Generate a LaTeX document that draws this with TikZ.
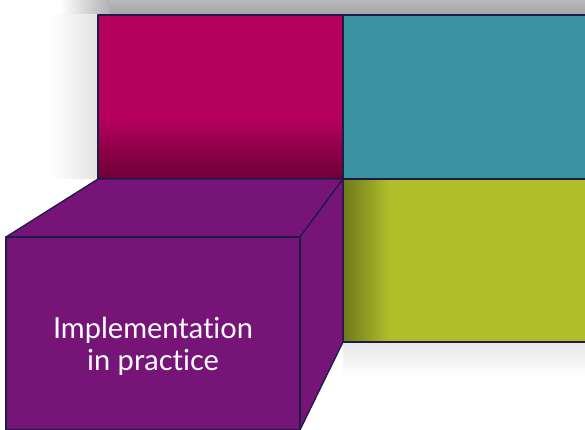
\documentclass[tikz,border=0pt]{standalone}
\usepackage{fontspec}
\setmainfont{Lato}[Ligatures=NoCommon]
\usetikzlibrary{positioning}

\definecolor{panelmagenta}{HTML}{B5005E}
\definecolor{panelmagentadark}{HTML}{6C0036}
\definecolor{panelteal}{HTML}{3892A0}
\definecolor{panellime}{HTML}{B0BE2A}
\definecolor{panellimedark}{HTML}{6E7A1C}
\definecolor{cubepurple}{HTML}{771478}
\definecolor{edgenavy}{HTML}{1F1A4A}

\begin{document}
\begin{tikzpicture}[x=1pt, y=-1pt,
    panel/.style={draw=edgenavy, line width=1.3pt, line join=round},
    cubeface/.style={panel, fill=cubepurple}]
    \useasboundingbox (0,0) rectangle (585,430);

    % Shadows behind the wall
    \shade[top color=gray!55, bottom color=gray!72] (110,0) rectangle (585,15);
    \shade[left color=white, right color=gray!62] (60,0) rectangle (110,15);
    \shade[left color=white, right color=gray!22] (50,15) rectangle (98,179);
    \shade[top color=gray!18, bottom color=white] (343,342) rectangle (585,378);

    % Corner points of the wall
    \coordinate (wallTL) at (98,15);
    \coordinate (wallTM) at (343,15);
    \coordinate (wallML) at (98,179);
    \coordinate (wallMM) at (343,179);
    \coordinate (wallBM) at (343,342);

    % Back panels
    \fill[panelmagenta] (wallTL) rectangle (wallMM);
    \shade[top color=panelmagenta, bottom color=panelmagentadark] (99,118) rectangle (342,179);
    \draw[panel] (wallTL) rectangle (wallMM);
    \fill[panelteal] (wallTM) rectangle (585,179);
    \draw[panel] (585,15) -- (wallTM) -- (wallMM) -- (585,179);
    \fill[panellime] (wallMM) rectangle (585,342);
    \shade[left color=panellimedark, right color=panellime] (343,179) rectangle (390,342);
    \draw[panel] (585,179) -- (wallMM) -- (wallBM) -- (585,342);

    % The cube in front
    \coordinate (cubeFTL) at (6,237);
    \coordinate (cubeFTR) at (300,237);
    \coordinate (cubeFBR) at (300,430);
    \draw[cubeface] (cubeFTL) -- (wallML) -- (wallMM) -- (cubeFTR) -- cycle;
    \draw[cubeface] (cubeFTR) -- (wallMM) -- (wallBM) -- (cubeFBR) -- cycle;
    \draw[cubeface] (cubeFTL) rectangle (cubeFBR);

    \node[text=white, align=center, font=\fontsize{29}{32}\selectfont] (practice) at (153,346) {Implementation\\in practice};
\end{tikzpicture}
\end{document}
